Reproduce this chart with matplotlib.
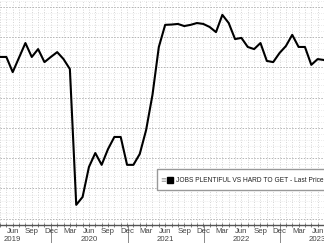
import pandas as pd
import matplotlib.pyplot as plt
import matplotlib.transforms as mtransforms
from matplotlib.patches import Rectangle

plt.rcParams['font.family'] = ['Liberation Sans', 'DejaVu Sans']

# monthly labour differential, Apr 2019 .. Jul 2023
months = pd.date_range('2019-04-01', periods=52, freq='MS')
values = [33.4, 33.4, 28.4, 33.2, 38.0, 33.4, 36.0, 31.7, 33.4,
          35.0, 32.7, 29.4, -15.4, -12.8, -2.9, 1.7, -2.2, 3.0, 7.0, 7.0, -2.2,
          -2.2, 1.4, 9.3, 20.9, 36.7, 44.0, 44.1, 44.3, 43.6, 44.0, 44.6, 44.3,
          43.3, 41.6, 47.3, 44.6, 39.3, 39.7, 36.7, 36.0, 38.0, 32.1, 31.7, 34.7,
          37.0, 40.7, 36.7, 36.7, 30.8, 32.7, 32.4]
series_label = 'JOBS PLENTIFUL VS HARD TO GET - Last Price'

x = list(range(len(months)))

fig = plt.figure(figsize=(3.24, 2.43), dpi=100)
ax = fig.add_axes([0, 18 / 243, 1, 225 / 243])

# grid: monthly dotted verticals, minor/major horizontals
for xi in x:
    ax.axvline(xi, color='#c8c8c8', lw=0.6, ls=(0, (1, 2)), zorder=0)
for yv in range(-22, 53, 2):
    if yv % 10 == 0:
        ax.axhline(yv, color='#b4b4b4', lw=0.7, ls=(0, (1.5, 1.5)), zorder=0)
    else:
        ax.axhline(yv, color='#dadada', lw=0.5, ls=(0, (1, 2)), zorder=0)

ax.plot(x, values, color='black', lw=1.5, zorder=3)

ax.set_xlim(0.28, 50.9)
ax.set_ylim(-22.05, 52.2)
ax.set_yticks([])
for s in ['top', 'left', 'right']:
    ax.spines[s].set_visible(False)
ax.spines['bottom'].set_color('#555555')
ax.spines['bottom'].set_linewidth(1)

ax.set_xticks(x)
ax.set_xticklabels([])
ax.tick_params(axis='x', direction='inout', length=3, width=0.6, color='#666666')

trans = mtransforms.blended_transform_factory(ax.transData, ax.transAxes)
for xi, d in zip(x, months):
    if d.month in (3, 6, 9, 12):
        ax.text(xi, -0.027, d.strftime('%b'), transform=trans, ha='center', va='center',
                fontsize=5.6, color='#444444', clip_on=False)
    if d.month == 6:
        ax.text(xi, -0.064, str(d.year), transform=trans, ha='center', va='center',
                fontsize=5.6, color='#444444', clip_on=False)
    if d.month == 12:
        ax.plot([xi + 0.1, xi + 0.1], [0, -0.09], transform=trans, color='#777777',
                lw=0.6, clip_on=False)

# legend box
ax.add_patch(Rectangle((0.4846, 0.1556), 0.53, 0.093, transform=ax.transAxes,
                       facecolor='white', edgecolor='#999999', lw=1, zorder=4))
ax.text(0.503, 0.198, '≡', transform=ax.transAxes, ha='center', va='center',
        fontsize=5, color='#888888', zorder=5, family=['DejaVu Sans'])
ax.plot([0.526], [0.198], marker='s', ms=3.8, color='black', transform=ax.transAxes,
        zorder=5, clip_on=False)
ax.text(0.543, 0.198, series_label, transform=ax.transAxes, ha='left', va='center',
        fontsize=4.8, color='#222222', zorder=5)

fig.savefig('out.png', dpi=100)
